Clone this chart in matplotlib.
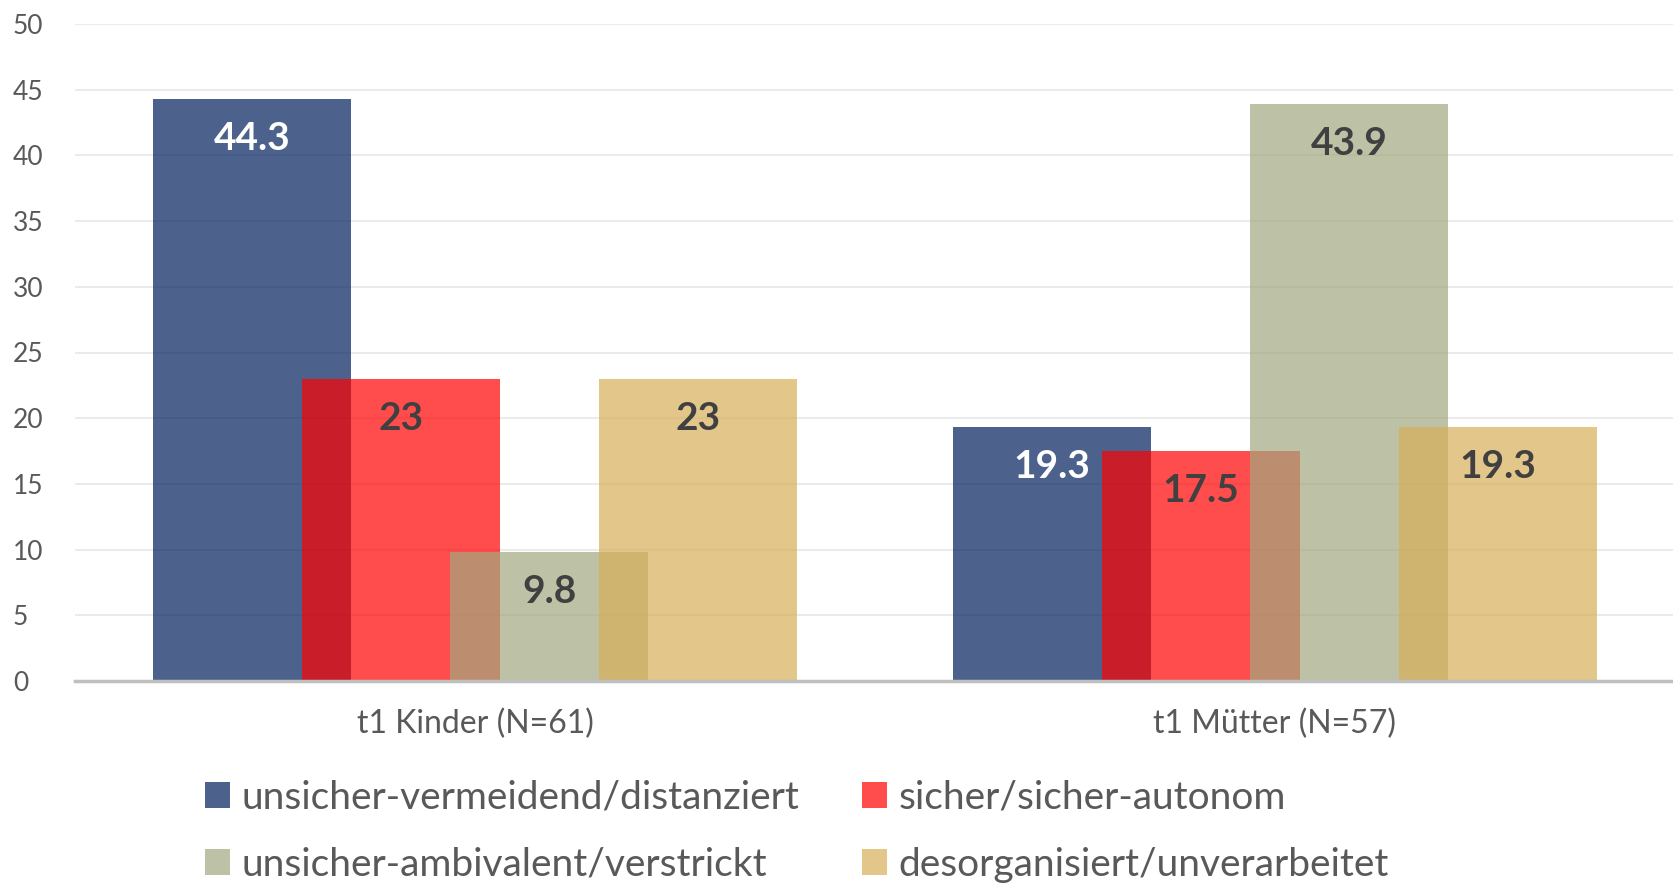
import matplotlib.pyplot as plt
import matplotlib.transforms as mtrans
import numpy as np

plt.rcParams['font.family'] = ['Lato', 'DejaVu Sans']

groups = ["t1 Kinder (N=61)", "t1 Mütter (N=57)"]
series = ["unsicher-vermeidend/distanziert", "sicher/sicher-autonom",
          "unsicher-ambivalent/verstrickt", "desorganisiert/unverarbeitet"]
values = [
    [44.3, 19.3],
    [23, 17.5],
    [9.8, 43.9],
    [23, 19.3],
]
labels = [
    ["44.3", "19.3"],
    ["23", "17.5"],
    ["9.8", "43.9"],
    ["23", "19.3"],
]
# colours drawn with alpha 0.7 so overlaps blend like the original
colors = ["#00205C", "#FF0000", "#A2A980", "#D6AF58"]
label_colors = ["white", "#404040", "#404040", "#404040"]

fig = plt.figure(figsize=(16.74, 8.84), dpi=100)
ax = fig.add_axes([75 / 1674, 1 - 681 / 884, 1600 / 1674, (681 - 24) / 884])

x = np.arange(len(groups))
step = 0.1856
width = 0.247
bars = []
for i, s in enumerate(series):
    xs = x + (i - 1.5) * step
    b = ax.bar(xs, values[i], width=width, color=colors[i], alpha=0.7,
               label=s, zorder=2, linewidth=0)
    bars.append(b)
    for xx, v, t in zip(xs, values[i], labels[i]):
        ax.text(xx, v - 3.0, t, ha='center', va='center', fontsize=28,
                fontweight='bold', color=label_colors[i], zorder=3)

ax.set_ylim(0, 50)
ax.set_xlim(-0.5, 1.5)
ax.set_yticks(np.arange(0, 51, 5))
ax.yaxis.grid(True, color='#EBEBEB', linewidth=1.5, zorder=0)
ax.set_axisbelow(True)
for sp in ['top', 'right', 'left']:
    ax.spines[sp].set_visible(False)
ax.spines['bottom'].set_color('#BFBFBF')
ax.spines['bottom'].set_linewidth(2.5)
ax.spines['bottom'].set_zorder(4)
ax.tick_params(axis='y', length=0, labelsize=19, labelcolor='#595959', pad=0)
ax.tick_params(axis='x', length=0, labelsize=23, labelcolor='#595959', pad=20)
ax.set_xticks(x)
ax.set_xticklabels(groups)
offset = mtrans.ScaledTranslation(-62 / 100, 0, fig.dpi_scale_trans)
for lbl in ax.get_yticklabels():
    lbl.set_horizontalalignment('left')
    lbl.set_transform(lbl.get_transform() + offset)

# legend is filled row by row in the original
order = [0, 2, 1, 3]
leg = fig.legend([bars[k] for k in order], [series[k] for k in order], ncol=2,
                 loc='upper left', bbox_to_anchor=(189 / 1674, 1 - 764 / 884),
                 frameon=False, fontsize=28, labelcolor='#595959',
                 handlelength=0.65, handleheight=0.65, handletextpad=0.3,
                 columnspacing=1.6, borderaxespad=0, labelspacing=0.8)

fig.savefig("out.png", dpi=100)
